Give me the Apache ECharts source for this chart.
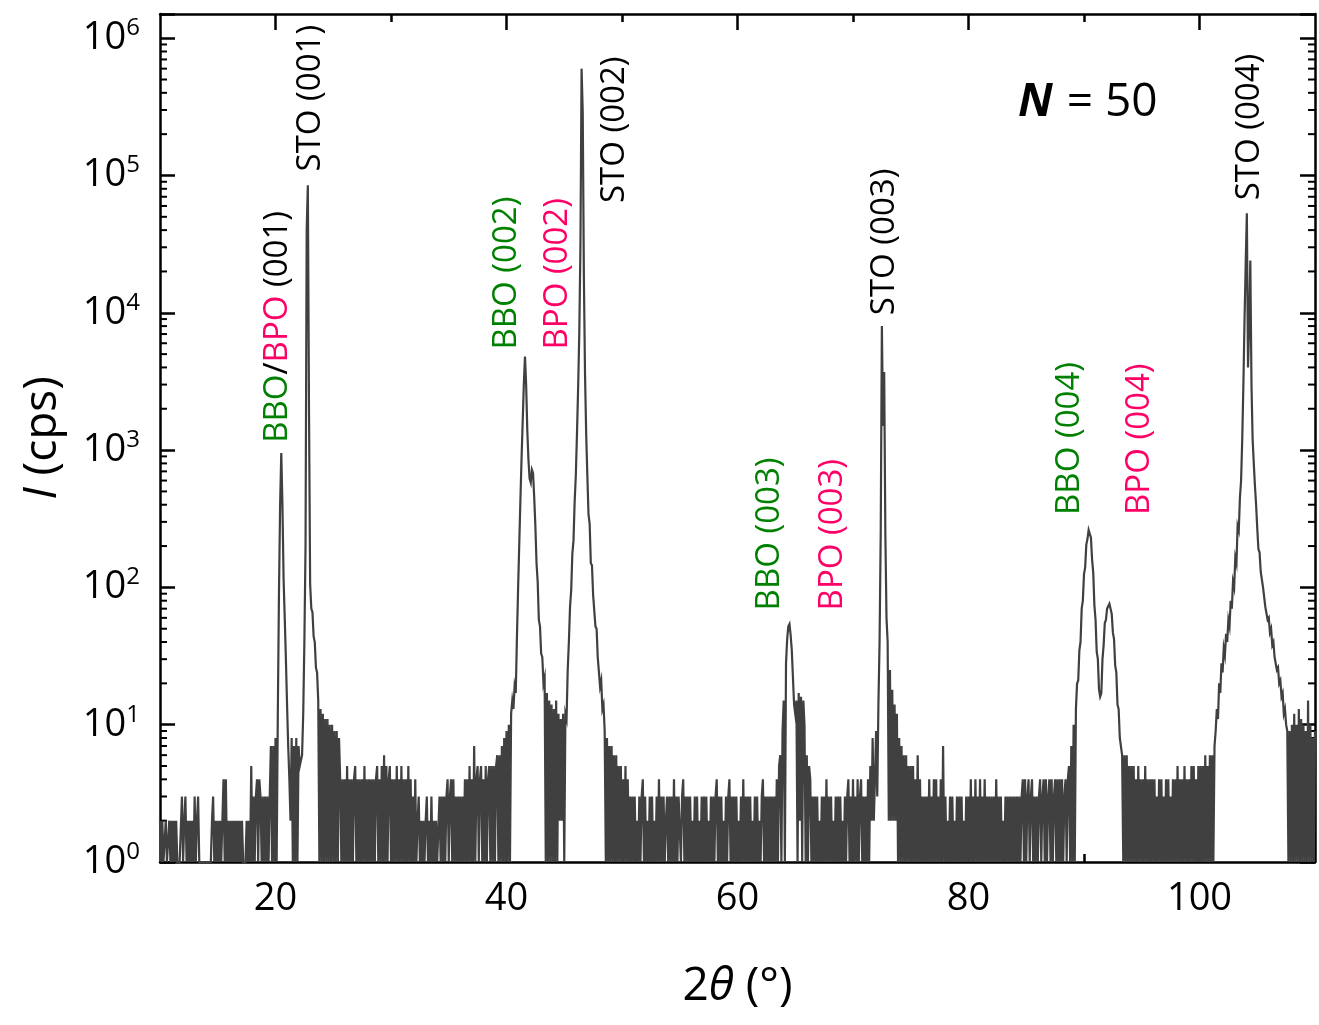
<!DOCTYPE html>
<html>
<head>
<meta charset="utf-8">
<script src="https://cdn.jsdelivr.net/npm/echarts@6/dist/echarts.min.js"></script>
<style>
  html, body { margin: 0; padding: 0; background: #fff; }
  #chart { width: 1319px; height: 1025px; }
</style>
</head>
<body>
<div id="chart"></div>
<script>
// XRD theta-2theta scan, N = 50 superlattice. Counts, 0.1 deg steps.
const scanStart = 10.0
const scanStep = 0.1

// 10.0 - 29.9 deg
const counts10 = [
  2, 1, 2, 1, 1, 2, 1, 1, 2, 1,
  2, 1, 2, 1, 2, 1, 1, 1, 1, 3,
  1, 2, 3, 1, 2, 1, 2, 1, 2, 1,
  3, 1, 2, 3, 1, 1, 1, 1, 1, 1,
  1, 1, 1, 1, 1, 2, 3, 1, 2, 1,
  2, 1, 2, 1, 2, 4, 1, 4, 1, 2,
  1, 2, 1, 2, 1, 2, 1, 2, 1, 2,
  1, 2, 1, 1, 1, 2, 1, 2, 1, 5,
  1, 3, 1, 3, 4, 1, 4, 3, 1, 3,
  1, 3, 1, 3, 1, 3, 7, 1, 7, 1,
  8, 1, 12, 90, 400, 950, 400, 115, 60, 30,
  14, 7, 4, 2, 8, 1, 7, 1, 8, 1,
  7, 5, 5, 6, 12, 40, 200, 40000, 85000, 2000,
  105, 70, 66, 44, 40, 26, 24, 15, 1, 13,
  1, 12, 1, 11, 1, 11, 1, 10, 1, 10,
  1, 9, 1, 9, 1, 8, 4, 1, 4, 1,
  4, 1, 5, 1, 4, 1, 4, 1, 4, 5,
  1, 4, 1, 4, 1, 4, 1, 5, 1, 4,
  1, 4, 1, 4, 1, 4, 1, 4, 5, 1,
  4, 1, 5, 1, 6, 1, 5, 1, 4, 5,
]

// 30.0 - 49.9 deg
const counts30 = [
  1, 4, 1, 4, 1, 5, 1, 4, 1, 5,
  1, 4, 1, 4, 1, 5, 1, 4, 1, 3,
  1, 4, 1, 2, 3, 1, 2, 1, 2, 1,
  2, 3, 1, 2, 1, 3, 1, 2, 1, 2,
  1, 1, 3, 1, 3, 1, 3, 1, 3, 4,
  1, 3, 4, 1, 4, 1, 3, 1, 3, 1,
  3, 1, 3, 1, 4, 1, 4, 1, 5, 1,
  4, 1, 7, 1, 4, 5, 1, 4, 5, 1,
  4, 1, 5, 1, 4, 5, 1, 5, 1, 5,
  1, 5, 6, 1, 6, 1, 7, 1, 8, 1,
  9, 1, 10, 1, 12, 15, 13, 19, 17, 42,
  95, 200, 420, 850, 1600, 3000, 4800, 3000, 1400, 850,
  620, 580, 720, 680, 450, 280, 150, 110, 58, 52,
  33, 31, 20, 22, 1, 17, 1, 15, 1, 14,
  1, 13, 1, 15, 1, 12, 2, 11, 2, 12,
  1, 12, 11, 25, 40, 72, 95, 175, 220, 420,
  650, 1300, 2800, 7000, 30000, 600000, 290000, 18000, 3500, 1300,
  650, 340, 290, 150, 145, 88, 90, 52, 50, 31,
  30, 19, 21, 13, 14, 9, 1, 8, 1, 7,
  1, 7, 1, 6, 1, 6, 1, 5, 1, 5,
]

// 50.0 - 69.9 deg
const counts50 = [
  1, 4, 1, 5, 1, 4, 1, 3, 1, 3,
  1, 3, 1, 2, 1, 3, 1, 3, 4, 1,
  3, 1, 2, 1, 3, 1, 3, 1, 2, 1,
  3, 1, 4, 1, 3, 1, 3, 1, 2, 3,
  1, 3, 1, 3, 1, 4, 1, 3, 1, 3,
  3, 1, 3, 4, 1, 3, 1, 3, 1, 3,
  1, 2, 1, 3, 1, 3, 1, 2, 1, 3,
  1, 3, 1, 3, 1, 2, 1, 3, 1, 3,
  1, 3, 4, 1, 3, 1, 3, 1, 2, 1,
  3, 1, 3, 4, 1, 3, 1, 3, 1, 3,
  1, 2, 1, 3, 1, 4, 1, 3, 1, 3,
  1, 3, 1, 2, 1, 3, 1, 3, 1, 2,
  1, 3, 4, 1, 3, 1, 3, 1, 3, 1,
  3, 1, 3, 1, 4, 1, 5, 6, 1, 9,
  15, 1, 28, 42, 52, 54, 45, 35, 22, 14,
  12, 15, 1, 17, 2, 16, 1, 15, 10, 1,
  6, 1, 5, 4, 1, 3, 1, 3, 1, 3,
  1, 2, 1, 3, 1, 3, 1, 4, 1, 3,
  1, 3, 1, 2, 1, 3, 1, 3, 1, 3,
  1, 2, 1, 3, 1, 3, 4, 1, 3, 1,
]

// 70.0 - 89.9 deg
const counts70 = [
  4, 1, 3, 1, 4, 1, 3, 4, 1, 3,
  1, 3, 1, 4, 1, 5, 2, 8, 2, 4,
  9, 3, 14, 40, 250, 8000, 1500, 3700, 250, 60,
  40, 2, 25, 2, 18, 2, 14, 2, 12, 1,
  8, 1, 7, 1, 6, 1, 6, 1, 5, 1,
  5, 1, 5, 1, 4, 1, 6, 1, 4, 1,
  3, 1, 3, 1, 3, 1, 4, 1, 3, 1,
  4, 1, 4, 1, 3, 1, 4, 1, 7, 1,
  3, 1, 2, 1, 3, 1, 3, 1, 2, 1,
  3, 1, 3, 1, 3, 1, 2, 1, 3, 1,
  3, 1, 4, 1, 3, 1, 4, 1, 3, 1,
  4, 1, 3, 1, 4, 1, 3, 1, 3, 1,
  3, 1, 3, 1, 4, 1, 3, 1, 3, 1,
  2, 1, 3, 1, 3, 1, 3, 1, 3, 1,
  3, 1, 3, 1, 3, 1, 3, 4, 1, 4,
  1, 3, 4, 1, 3, 4, 1, 3, 1, 3,
  1, 3, 4, 1, 3, 4, 1, 4, 1, 3,
  4, 1, 4, 1, 3, 4, 1, 4, 1, 4,
  1, 4, 1, 3, 4, 1, 4, 5, 1, 7,
  1, 10, 1, 13, 20, 21, 35, 40, 70, 80,
]

// 90.0 - 110.0 deg
const counts90 = [
  125, 140, 205, 225, 262, 270, 230, 160, 128, 74,
  58, 34, 30, 18, 16, 17, 30, 38, 55, 58,
  70, 68, 76, 70, 64, 47, 42, 27, 24, 14,
  13, 8, 8, 6, 1, 6, 1, 6, 1, 5,
  1, 5, 1, 5, 1, 4, 1, 5, 1, 4,
  1, 4, 1, 5, 1, 4, 1, 4, 1, 4,
  1, 4, 1, 3, 1, 4, 1, 4, 1, 3,
  1, 4, 1, 4, 1, 3, 1, 4, 1, 4,
  1, 5, 1, 4, 1, 4, 1, 5, 1, 4,
  1, 4, 1, 5, 1, 5, 1, 4, 1, 5,
  1, 5, 1, 5, 1, 6, 1, 5, 1, 6,
  1, 6, 1, 7, 9, 13, 11, 20, 17, 28,
  24, 36, 32, 46, 40, 58, 52, 80, 70, 110,
  100, 165, 150, 280, 260, 450, 600, 1200, 3000, 9000,
  23000, 53000, 4000, 8000, 24000, 3000, 1200, 800, 550, 400,
  270, 190, 180, 130, 130, 100, 100, 72, 74, 58,
  60, 47, 50, 38, 40, 31, 32, 25, 26, 20,
  21, 16, 17, 12, 13, 10, 9, 1, 9, 1,
  10, 1, 12, 1, 10, 1, 13, 1, 11, 1,
  10, 1, 9, 1, 15, 1, 10, 1, 8, 1,
  9,
]

// peak labels (rich markup), their 2theta and the intensity where the text starts
const peakLabels = [
  '{g|BBO}/{p|BPO} (001)', 'STO (001)',
  '{g|BBO (002)}', '{p|BPO (002)}', 'STO (002)',
  '{g|BBO (003)}', '{p|BPO (003)}', 'STO (003)',
  '{g|BBO (004)}', '{p|BPO (004)}', 'STO (004)',
]
const labelTheta = [20.16, 23.02, 39.97, 44.39, 49.4, 62.8, 68.2, 72.76, 88.76, 94.8, 104.3]
const labelBase = [1130, 107000, 5400, 5400, 63000, 68, 68, 9600, 337, 337, 66000]

const xMajorTicks = [20, 40, 60, 80, 100]
const xMinorTicks = [30, 50, 70, 90]

const FONT = '"Open Sans", "Noto Sans", sans-serif'
const BLACK = '#000'
const GREEN = '#008000'
const PINK = '#ff0066'

const allCounts = counts10.concat(counts30, counts50, counts70, counts90)
const scanData = allCounts.map((c, i) => [+(scanStart + i * scanStep).toFixed(1), c])

// minor ticks of the log axis: 2..9 x 10^k
const yMinorTicks = []
for (let k = 0; k < 6; k++) {
  for (let m = 2; m <= 9; m++) yMinorTicks.push([10, m * Math.pow(10, k)])
}

const chart = echarts.init(document.getElementById('chart'), null, { renderer: 'canvas' })

const frameLine = { show: true, onZero: false, lineStyle: { color: BLACK, width: 2.5 } }

const xAxisBase = (position, showLine, ticks, length, withLabels) => ({
  type: 'value',
  min: 10,
  max: 110,
  interval: 10,
  position: position,
  axisLine: showLine ? frameLine : { show: false },
  axisTick: {
    show: true,
    inside: true,
    length: length,
    customValues: ticks,
    lineStyle: { color: BLACK, width: 2.5 },
  },
  axisLabel: withLabels
    ? { show: true, customValues: xMajorTicks, fontSize: 38, fontFamily: FONT, color: BLACK, margin: 18 }
    : { show: false },
  splitLine: { show: false },
})

const yLabelFormatter = (v) => {
  const e = Math.round(Math.log10(v))
  if (Math.abs(Math.pow(10, e) - v) > 1e-6 * v) return ''
  return '{b|10}{s|' + e + '}'
}

const option = {
  animation: false,
  backgroundColor: '#fff',
  grid: { left: 160, right: 4, top: 14, bottom: 163, containLabel: false },
  xAxis: [
    Object.assign(xAxisBase('bottom', true, xMajorTicks, 16, true), {
      name: '2{i|θ} (°)',
      nameLocation: 'middle',
      nameGap: 102,
      nameTextStyle: {
        fontSize: 46, fontFamily: FONT, color: BLACK,
        rich: { i: { fontSize: 46, fontFamily: FONT, fontStyle: 'italic', color: BLACK } },
      },
    }),
    xAxisBase('bottom', false, xMinorTicks, 8, false),
    xAxisBase('top', true, xMajorTicks, 16, false),
    xAxisBase('top', false, xMinorTicks, 8, false),
  ],
  yAxis: [
    {
      type: 'log',
      logBase: 10,
      min: 1,
      max: 1.5e6,
      position: 'left',
      axisLine: frameLine,
      axisTick: { show: true, inside: true, length: 15, lineStyle: { color: BLACK, width: 2.5 } },
      axisLabel: {
        formatter: yLabelFormatter,
        margin: 20,
        rich: {
          b: { fontSize: 38, fontFamily: FONT, color: BLACK, lineHeight: 44 },
          s: { fontSize: 24, fontFamily: FONT, color: BLACK, lineHeight: 20, verticalAlign: 'top' },
        },
      },
      splitLine: { show: false },
      name: '{i|I} (cps)',
      nameLocation: 'middle',
      nameGap: 94,
      nameRotate: 90,
      nameTextStyle: {
        fontSize: 46, fontFamily: FONT, color: BLACK,
        rich: { i: { fontSize: 46, fontFamily: FONT, fontStyle: 'italic', color: BLACK } },
      },
    },
    {
      type: 'log',
      logBase: 10,
      min: 1,
      max: 1.5e6,
      position: 'right',
      axisLine: frameLine,
      axisTick: { show: true, inside: true, length: 15, lineStyle: { color: BLACK, width: 2.5 } },
      axisLabel: { show: false },
      splitLine: { show: false },
    },
  ],
  series: [
    {
      name: 'minor ticks',
      type: 'custom',
      xAxisIndex: 0,
      yAxisIndex: 0,
      silent: true,
      clip: false,
      z: 1,
      data: yMinorTicks,
      renderItem: (params, api) => {
        const left = api.coord([10, api.value(1)])
        const right = api.coord([110, api.value(1)])
        const st = { stroke: BLACK, lineWidth: 2 }
        return {
          type: 'group',
          children: [
            { type: 'line', shape: { x1: left[0], y1: left[1], x2: left[0] + 7, y2: left[1] }, style: st },
            { type: 'line', shape: { x1: right[0], y1: right[1], x2: right[0] - 7, y2: right[1] }, style: st },
          ],
        }
      },
    },
    {
      name: 'N = 50',
      type: 'line',
      xAxisIndex: 0,
      yAxisIndex: 0,
      data: scanData,
      showSymbol: false,
      symbol: 'none',
      sampling: false,
      z: 2,
      lineStyle: { color: '#404040', width: 2.2, join: 'miter' },
    },
  ],
}

chart.setOption(option)

const labelRich = {
  g: { fontSize: 33, fontFamily: FONT, fill: GREEN, color: GREEN },
  p: { fontSize: 33, fontFamily: FONT, fill: PINK, color: PINK },
}

const graphics = peakLabels.map((txt, i) => {
  const pt = chart.convertToPixel({ xAxisIndex: 0, yAxisIndex: 0 }, [labelTheta[i], labelBase[i]])
  return {
    type: 'text',
    x: pt[0],
    y: pt[1],
    rotation: Math.PI / 2,
    silent: true,
    z: 10,
    style: {
      text: txt,
      fontSize: 33,
      fontFamily: FONT,
      fill: BLACK,
      align: 'left',
      verticalAlign: 'middle',
      rich: labelRich,
    },
  }
})

graphics.push({
  type: 'text',
  x: 1018,
  y: 103,
  silent: true,
  z: 10,
  style: {
    text: '{n|N}{e|=}50',
    fontSize: 46,
    fontFamily: FONT,
    fill: BLACK,
    align: 'left',
    verticalAlign: 'middle',
    rich: {
      n: { fontSize: 46, fontFamily: FONT, fontWeight: 'bold', fontStyle: 'italic', fill: BLACK },
      e: { fontSize: 46, fontFamily: FONT, fill: BLACK, padding: [0, 12, 0, 14] },
    },
  },
})

chart.setOption({ graphic: graphics })
</script>
</body>
</html>
